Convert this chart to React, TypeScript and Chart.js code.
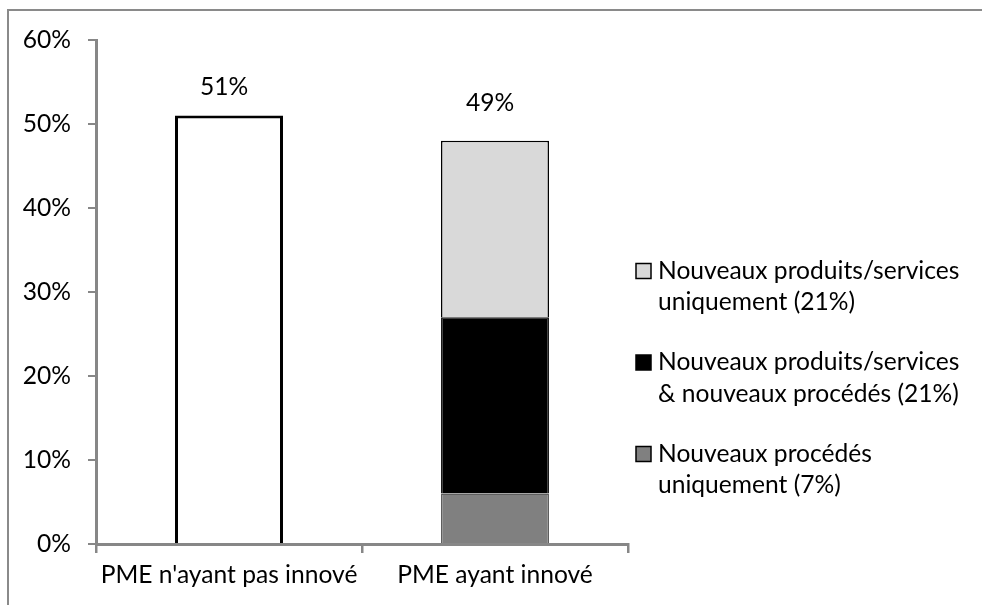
import React, { useEffect, useRef } from "react";
import { Chart, registerables } from "chart.js";

Chart.register(...registerables);

const categories = ["PME n'ayant pas innové", "PME ayant innové"];
const nonInnovating = [51, null];
const processOnly = [null, 6];
const productAndProcess = [null, 21];
const productOnly = [null, 21];
const totals = [51, 49];
const legendLabels = [
  ["Nouveaux produits/services", "uniquement (21%)"],
  ["Nouveaux produits/services", "& nouveaux procédés (21%)"],
  ["Nouveaux procédés", "uniquement (7%)"],
];
const yMin = 0;
const yMax = 60;
const yStep = 10;

const FONT = "Lato";
const FONT_SIZE = 24.6;
const AXIS_GRAY = "#878787";

export default function App() {
  const ref = useRef<HTMLCanvasElement | null>(null);

  useEffect(() => {
    if (!ref.current) return;

    const totalsPlugin = {
      id: "totals",
      afterDatasetsDraw(chart: any) {
        const { ctx, scales } = chart;
        ctx.save();
        ctx.font = `${FONT_SIZE}px ${FONT}`;
        ctx.fillStyle = "#000";
        ctx.textAlign = "center";
        ctx.textBaseline = "middle";
        totals.forEach((t, i) => {
          const x = scales.x.getPixelForValue(i) - 5;
          const y = scales.y.getPixelForValue(t) - 29;
          ctx.fillText(`${t}%`, x, y);
        });
        ctx.restore();
      },
    };

    const legendPlugin = {
      id: "customLegend",
      afterDraw(chart: any) {
        const { ctx } = chart;
        const order = [3, 2, 1];
        ctx.save();
        ctx.font = `${FONT_SIZE}px ${FONT}`;
        ctx.textBaseline = "middle";
        ctx.textAlign = "left";
        order.forEach((di, k) => {
          const ds = chart.data.datasets[di];
          const cy = 271 + k * 91.5;
          ctx.fillStyle = ds.backgroundColor;
          ctx.fillRect(636, cy - 7.5, 15, 15);
          ctx.strokeStyle = "#000";
          ctx.lineWidth = 1.5;
          ctx.strokeRect(636, cy - 7.5, 15, 15);
          ctx.fillStyle = "#000";
          legendLabels[k].forEach((line, j) => {
            ctx.fillText(line, 658, cy + j * 31.5);
          });
        });
        ctx.restore();
      },
    };

    const chart = new Chart(ref.current, {
      type: "bar",
      data: {
        labels: categories,
        datasets: [
          {
            label: categories[0],
            data: nonInnovating,
            backgroundColor: "#FFFFFF",
            borderColor: "#000000",
            borderWidth: 3,
          },
          {
            label: legendLabels[2].join(" "),
            data: processOnly,
            backgroundColor: "#808080",
            borderColor: "#5E5E5E",
            borderWidth: 1.5,
          },
          {
            label: legendLabels[1].join(" "),
            data: productAndProcess,
            backgroundColor: "#000000",
            borderColor: "#1A1A1A",
            borderWidth: 1.5,
          },
          {
            label: legendLabels[0].join(" "),
            data: productOnly,
            backgroundColor: "#D9D9D9",
            borderColor: "#000000",
            borderWidth: 1.5,
          },
        ],
      },
      options: {
        responsive: false,
        animation: false,
        layout: { padding: { left: 0, top: 40, right: 354, bottom: 0 } },
        datasets: {
          bar: { barPercentage: 0.406, categoryPercentage: 1 },
        },
        plugins: {
          legend: { display: false },
          tooltip: { enabled: false },
        },
        scales: {
          x: {
            stacked: true,
            grid: {
              display: true,
              offset: true,
              drawOnChartArea: false,
              drawTicks: true,
              tickLength: 9,
              color: AXIS_GRAY,
              lineWidth: 2.5,
            },
            border: { display: true, color: AXIS_GRAY, width: 3 },
            ticks: {
              color: "#000",
              font: { family: FONT, size: FONT_SIZE },
              padding: 7,
              maxRotation: 0,
            },
            afterFit(s: any) {
              s.height = 61;
            },
          },
          y: {
            stacked: true,
            min: yMin,
            max: yMax,
            grid: {
              display: true,
              drawOnChartArea: false,
              drawTicks: true,
              tickLength: 8,
              color: AXIS_GRAY,
              lineWidth: 2,
            },
            border: { display: true, color: AXIS_GRAY, width: 3 },
            ticks: {
              stepSize: yStep,
              color: "#000",
              font: { family: FONT, size: FONT_SIZE },
              padding: 17,
              callback: (v: any) => `${v}%`,
            },
            afterFit(s: any) {
              s.width = 96;
            },
          },
        },
      },
      plugins: [totalsPlugin, legendPlugin],
    });

    return () => chart.destroy();
  }, []);

  return (
    <>
      <div
        style={{
          position: "fixed",
          left: 0,
          top: 0,
          width: 982,
          height: 605,
          background: "#fff",
        }}
      >
        <canvas ref={ref} width={982} height={605} style={{ display: "block" }} />
      </div>
      <div
        style={{
          position: "fixed",
          left: 7,
          top: 9,
          width: 2000,
          height: 2000,
          borderLeft: "2px solid #8a8a8a",
          borderTop: "2px solid #8a8a8a",
          pointerEvents: "none",
        }}
      />
    </>
  );
}
